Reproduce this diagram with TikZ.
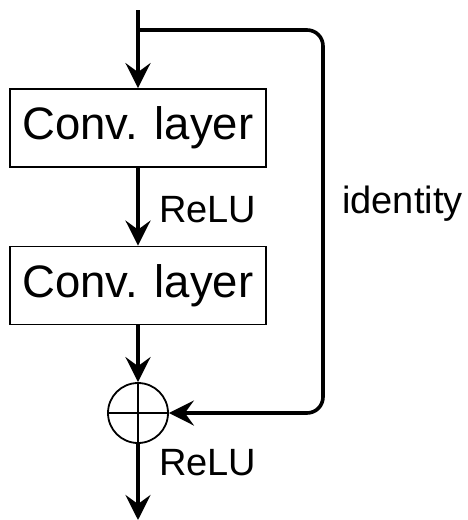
\documentclass[tikz,border=0pt]{standalone}
\usepackage{fontspec}
\setmainfont{Liberation Sans}
\usetikzlibrary{arrows.meta}
\begin{document}
\begin{tikzpicture}[x=1pt,y=-1pt,
  layerbox/.style={draw,line width=1.8pt,minimum width=256pt,minimum height=78pt,inner sep=0pt,font=\fontsize{45.5}{50}\selectfont},
  conn/.style={line width=3.6pt},
  arr/.style={conn,-{Stealth[length=25pt,width=25pt,inset=9pt]}},
  lbl/.style={anchor=base west,inner sep=0pt,font=\fontsize{38}{44}\selectfont}]
\useasboundingbox (0,0) rectangle (467,520);
\node[layerbox] (c1) at (138,128) {Conv. layer};
\node[layerbox] (c2) at (138,285.5) {Conv. layer};
\node[draw,circle,line width=1.8pt,minimum size=60pt,inner sep=0pt] (sum) at (138,413) {};
\draw[line width=1.8pt] (sum.north) -- (sum.south) (sum.west) -- (sum.east);
\coordinate (top) at (138,10);
\coordinate (split) at (138,30);
\coordinate (out) at (138,520);
\coordinate (cr) at (323,30);
\draw[arr] (top) -- (c1.north);
\draw[arr] (c1.south) -- (c2.north);
\draw[arr] (c2.south) -- (sum.north);
\draw[arr] (sum.south) -- (out);
\draw[arr,rounded corners=16pt] (split) -- (cr) |- (sum.east);
\node[lbl] (r1) at (159,222) {ReLU};
\node[lbl] (r2) at (159,475) {ReLU};
\node[lbl] (id) at (342,213) {identity};
\end{tikzpicture}
\end{document}
